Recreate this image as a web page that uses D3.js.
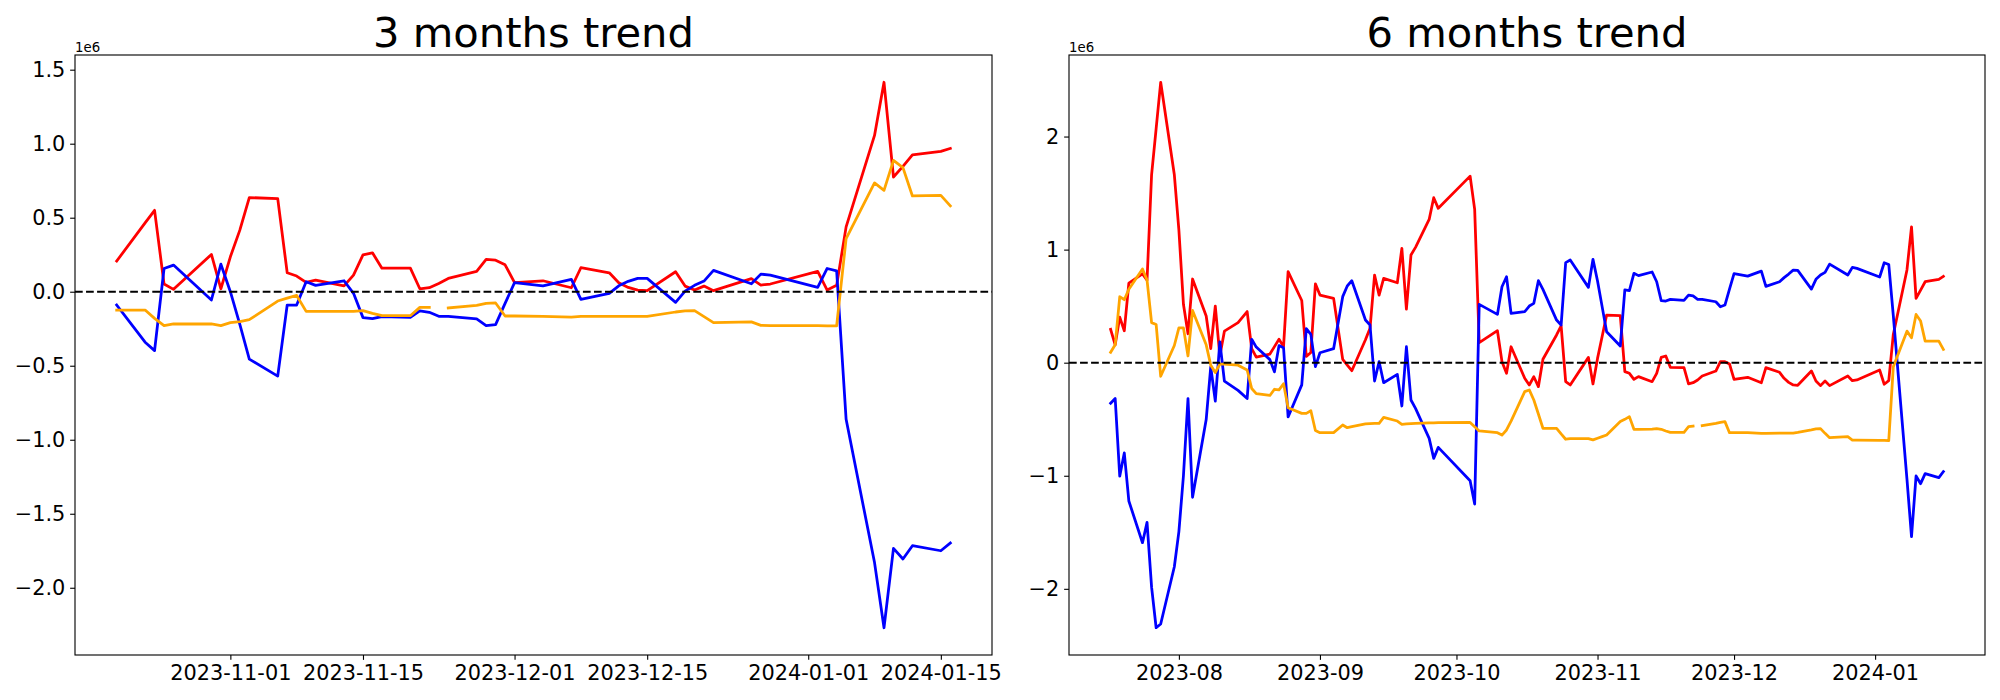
<!DOCTYPE html>
<html>
<head>
<meta charset="utf-8">
<script src="https://cdn.jsdelivr.net/npm/d3@7"></script>
<style>
  html, body { margin: 0; padding: 0; background: #fff; }
  svg { display: block; font-family: "DejaVu Sans", sans-serif; }
</style>
</head>
<body>
<svg id="chart" width="2000" height="700"></svg>
<script>
// ---------------- DATA (values in units of 1e6) ----------------
const titles = ["3 months trend", "6 months trend"];

const dates3m = ["2023-10-20","2023-10-23","2023-10-24","2023-10-25","2023-10-26","2023-10-30","2023-10-31",
  "2023-11-01","2023-11-02","2023-11-03","2023-11-06","2023-11-07","2023-11-08","2023-11-09","2023-11-10",
  "2023-11-13","2023-11-14","2023-11-15","2023-11-16","2023-11-17","2023-11-20","2023-11-21","2023-11-22",
  "2023-11-23","2023-11-24","2023-11-27","2023-11-28","2023-11-29","2023-11-30","2023-12-01","2023-12-04",
  "2023-12-07","2023-12-08","2023-12-11","2023-12-12","2023-12-13","2023-12-14","2023-12-15","2023-12-18",
  "2023-12-19","2023-12-20","2023-12-21","2023-12-22","2023-12-26","2023-12-27","2023-12-28","2024-01-02",
  "2024-01-03","2024-01-04","2024-01-05","2024-01-08","2024-01-09","2024-01-10","2024-01-11","2024-01-12",
  "2024-01-15","2024-01-16"];
const red3m = [0.207,0.465,0.550,0.052,0.016,0.252,0.020,
  0.236,0.416,0.636,0.629,0.128,0.106,0.063,0.079,
  0.040,0.112,0.249,0.263,0.159,0.159,0.020,0.027,
  0.056,0.090,0.137,0.218,0.213,0.182,0.061,0.074,
  0.027,0.162,0.128,0.061,0.029,0.011,0.007,0.135,
  0.038,0.011,0.038,0.007,0.088,0.045,0.052,0.137,
  0.011,0.043,0.438,1.056,1.415,0.775,0.847,0.925,
  0.948,0.968];
const blue3m = [-0.090,-0.341,-0.398,0.157,0.180,-0.056,0.186,
  0.000,-0.220,-0.455,-0.570,-0.090,-0.090,0.067,0.043,
  0.074,-0.011,-0.175,-0.182,-0.168,-0.173,-0.130,-0.139,
  -0.166,-0.166,-0.184,-0.229,-0.222,-0.079,0.061,0.040,
  0.083,-0.052,-0.011,0.040,0.070,0.090,0.090,-0.072,
  0.004,0.043,0.072,0.144,0.054,0.119,0.112,0.029,
  0.157,0.141,-0.862,-1.830,-2.270,-1.734,-1.806,-1.716,
  -1.750,-1.698];
const orange3m = [-0.124,-0.124,-0.180,-0.229,-0.218,-0.218,-0.229,
  -0.209,-0.202,-0.189,-0.063,-0.043,-0.025,-0.133,-0.133,
  -0.133,-0.133,-0.128,-0.146,-0.162,-0.162,-0.106,-0.106,
  null,-0.110,-0.092,-0.079,-0.076,-0.164,-0.164,-0.166,
  -0.171,-0.166,-0.166,-0.166,-0.166,-0.166,-0.166,-0.137,
  -0.130,-0.128,-0.168,-0.209,-0.204,-0.227,-0.229,-0.229,
  -0.231,-0.231,0.359,0.735,0.685,0.887,0.838,0.647,
  0.651,0.580];

const dates6m = ["2023-07-17","2023-07-18","2023-07-19","2023-07-20","2023-07-21","2023-07-24","2023-07-25",
  "2023-07-26","2023-07-27","2023-07-28","2023-07-31","2023-08-01","2023-08-02","2023-08-03","2023-08-04",
  "2023-08-07","2023-08-08","2023-08-09","2023-08-10","2023-08-11","2023-08-14","2023-08-16","2023-08-17",
  "2023-08-18","2023-08-21","2023-08-22","2023-08-23","2023-08-24","2023-08-25","2023-08-28","2023-08-29",
  "2023-08-30","2023-08-31","2023-09-01","2023-09-04","2023-09-06","2023-09-07","2023-09-08","2023-09-11",
  "2023-09-12","2023-09-13","2023-09-14","2023-09-15","2023-09-18","2023-09-19","2023-09-20","2023-09-21",
  "2023-09-22","2023-09-25","2023-09-26","2023-09-27","2023-10-04","2023-10-05","2023-10-06","2023-10-10",
  "2023-10-11","2023-10-12","2023-10-13","2023-10-16","2023-10-17","2023-10-18","2023-10-19","2023-10-20",
  "2023-10-23","2023-10-24","2023-10-25","2023-10-26","2023-10-30","2023-10-31","2023-11-01","2023-11-02",
  "2023-11-03","2023-11-06","2023-11-07","2023-11-08","2023-11-09","2023-11-10","2023-11-13","2023-11-14",
  "2023-11-15","2023-11-16","2023-11-17","2023-11-20","2023-11-21","2023-11-22","2023-11-23","2023-11-24",
  "2023-11-27","2023-11-28","2023-11-29","2023-11-30","2023-12-01","2023-12-04","2023-12-07","2023-12-08",
  "2023-12-11","2023-12-12","2023-12-13","2023-12-14","2023-12-15","2023-12-18","2023-12-19","2023-12-20",
  "2023-12-21","2023-12-22","2023-12-26","2023-12-27","2023-12-28","2024-01-02","2024-01-03","2024-01-04",
  "2024-01-05","2024-01-08","2024-01-09","2024-01-10","2024-01-11","2024-01-12","2024-01-15","2024-01-16"];
const red6m = [0.295,0.158,0.403,0.282,0.704,0.786,0.730,
  1.662,2.070,2.480,1.662,1.172,0.517,0.256,0.740,
  0.413,0.125,0.501,0.060,0.279,0.354,0.452,0.125,
  0.050,0.076,0.142,0.207,0.142,0.805,0.550,0.055,
  0.090,0.697,0.598,0.569,0.029,-0.021,-0.071,0.203,
  0.304,0.775,0.598,0.746,0.707,1.011,0.474,0.952,
  1.020,1.267,1.459,1.365,1.650,1.356,0.177,0.283,
  0.009,-0.094,0.141,-0.138,-0.197,-0.124,-0.212,0.030,
  0.245,0.325,-0.168,-0.197,0.047,-0.188,0.038,0.230,
  0.421,0.416,-0.079,-0.094,-0.147,-0.123,-0.168,-0.094,
  0.047,0.059,-0.041,-0.044,-0.188,-0.177,-0.153,-0.118,
  -0.074,0.009,0.009,-0.011,-0.147,-0.129,-0.177,-0.044,
  -0.085,-0.138,-0.174,-0.197,-0.200,-0.073,-0.162,-0.203,
  -0.162,-0.203,-0.118,-0.159,-0.153,-0.065,-0.191,-0.159,
  0.250,0.820,1.202,0.569,0.642,0.716,0.737,0.763];
const blue6m = [-0.359,-0.317,-1.004,-0.798,-1.223,-1.592,-1.412,
  -1.985,-2.344,-2.311,-1.805,-1.494,-1.000,-0.317,-1.190,
  -0.503,-0.038,-0.339,0.184,-0.163,-0.245,-0.317,0.207,
  0.138,0.027,-0.081,0.151,0.132,-0.480,-0.196,0.301,
  0.250,-0.035,0.088,0.124,0.584,0.678,0.725,0.377,
  0.333,-0.162,0.009,-0.177,-0.103,-0.383,0.141,-0.330,
  -0.404,-0.669,-0.846,-0.749,-1.044,-1.250,0.516,0.427,
  0.672,0.760,0.436,0.451,0.501,0.525,0.725,0.648,
  0.377,0.333,0.885,0.908,0.666,0.914,0.722,0.498,
  0.274,0.147,0.643,0.637,0.790,0.770,0.802,0.716,
  0.548,0.545,0.560,0.551,0.598,0.590,0.560,0.560,
  0.539,0.495,0.510,0.651,0.787,0.766,0.810,0.675,
  0.716,0.752,0.784,0.819,0.816,0.651,0.737,0.775,
  0.799,0.872,0.775,0.843,0.834,0.758,0.884,0.869,
  0.416,-1.030,-1.538,-1.002,-1.070,-0.981,-1.016,-0.963];
const orange6m = [0.092,0.158,0.583,0.557,0.650,0.829,0.731,
  0.354,0.338,-0.120,0.152,0.308,0.308,0.060,0.462,
  0.158,-0.022,-0.087,-0.012,-0.012,-0.022,-0.065,-0.228,
  -0.274,-0.290,-0.235,-0.241,-0.186,-0.399,-0.448,-0.448,
  -0.425,-0.600,-0.619,-0.619,-0.551,-0.575,-0.566,-0.542,
  -0.539,-0.536,-0.536,-0.483,-0.516,-0.545,-0.542,-0.539,
  -0.536,-0.533,-0.533,-0.530,-0.528,-0.566,-0.604,-0.619,
  -0.640,-0.595,-0.517,-0.256,-0.241,-0.330,-0.454,-0.580,
  -0.580,-0.630,-0.677,-0.671,-0.671,-0.683,-0.668,-0.654,
  -0.639,-0.521,-0.501,-0.477,-0.589,-0.589,-0.587,-0.584,
  -0.589,-0.604,-0.616,-0.616,-0.566,-0.560,null,-0.557,
  -0.536,-0.527,-0.521,-0.619,-0.619,-0.619,-0.625,-0.625,
  -0.622,-0.622,-0.622,-0.622,-0.616,-0.595,-0.586,-0.583,
  -0.625,-0.663,-0.654,-0.684,-0.684,-0.687,-0.687,-0.690,
  -0.035,0.279,0.220,0.427,0.368,0.191,0.191,0.118];

const xTicks3m = ["2023-11-01","2023-11-15","2023-12-01","2023-12-15","2024-01-01","2024-01-15"];
const xTicks6m = ["2023-08-01","2023-09-01","2023-10-01","2023-11-01","2023-12-01","2024-01-01"];
const yTicks3m = [-2.0,-1.5,-1.0,-0.5,0.0,0.5,1.0,1.5];
const yTicks6m = [-2,-1,0,1,2];
const seriesColors = ["red", "blue", "orange"];
const offsetLabel = "1e6";

// ---------------- DRAWING ----------------
const svg = d3.select("#chart");
const parse = d3.utcParse("%Y-%m-%d");
const PT = 100 / 72;               // px per point at dpi 100
const tickFont = 15 * PT;
const titleFont = 30 * PT;

const panels = [
  { title: titles[0], dates: dates3m, series: [red3m, blue3m, orange3m],
    xTicks: xTicks3m, xFmt: d3.utcFormat("%Y-%m-%d"), yTicks: yTicks3m, yFmt: d3.format(".1f"),
    left: 75, right: 992 },
  { title: titles[1], dates: dates6m, series: [red6m, blue6m, orange6m],
    xTicks: xTicks6m, xFmt: d3.utcFormat("%Y-%m"), yTicks: yTicks6m, yFmt: d3.format("d"),
    left: 1069, right: 1985 }
];
const axTop = 55, axBottom = 655;

panels.forEach((p, pi) => {
  const ds = p.dates.map(parse);
  const [d0, d1] = d3.extent(ds);
  const dPad = (d1 - d0) * 0.05;
  const x = d3.scaleUtc().domain([new Date(+d0 - dPad), new Date(+d1 + dPad)]).range([p.left, p.right]);
  const allV = p.series.flat().filter(v => v != null);
  const [v0, v1] = d3.extent(allV);
  const vPad = (v1 - v0) * 0.05;
  const y = d3.scaleLinear().domain([v0 - vPad, v1 + vPad]).range([axBottom, axTop]);

  const g = svg.append("g");
  const clipId = "clip" + pi;
  g.append("clipPath").attr("id", clipId).append("rect")
    .attr("x", p.left).attr("y", axTop).attr("width", p.right - p.left).attr("height", axBottom - axTop);

  const plot = g.append("g").attr("clip-path", `url(#${clipId})`);
  const line = d3.line().defined(d => d.v != null).x(d => x(d.t)).y(d => y(d.v));
  p.series.forEach((vals, si) => {
    const data = vals.map((v, i) => ({ t: ds[i], v }));
    plot.append("path").datum(data)
      .attr("d", line)
      .attr("fill", "none")
      .attr("stroke", seriesColors[si])
      .attr("stroke-width", 2 * PT)
      .attr("stroke-linejoin", "round")
      .attr("stroke-linecap", "square");
  });

  // zero reference line
  plot.append("line")
    .attr("x1", p.left).attr("x2", p.right)
    .attr("y1", y(0)).attr("y2", y(0))
    .attr("stroke", "black").attr("stroke-width", 1.5 * PT)
    .attr("stroke-dasharray", `${5.55 * PT},${2.4 * PT}`);

  // axes
  const xAxis = d3.axisBottom(x).tickValues(p.xTicks.map(parse)).tickFormat(p.xFmt)
    .tickSizeOuter(0).tickSize(3.5 * PT).tickPadding(3.5 * PT);
  const yAxis = d3.axisLeft(y).tickValues(p.yTicks).tickFormat(p.yFmt)
    .tickSizeOuter(0).tickSize(3.5 * PT).tickPadding(3.5 * PT);

  const gx = g.append("g").attr("transform", `translate(0,${axBottom})`).call(xAxis);
  const gy = g.append("g").attr("transform", `translate(${p.left},0)`).call(yAxis);
  [gx, gy].forEach(a => {
    a.select(".domain").remove();
    a.selectAll(".tick line").attr("stroke", "black").attr("stroke-width", 0.8 * PT);
    a.selectAll(".tick text").attr("fill", "black")
      .style("font-family", "'DejaVu Sans', sans-serif").style("font-size", tickFont + "px");
  });

  // frame
  g.append("rect").attr("x", p.left).attr("y", axTop)
    .attr("width", p.right - p.left).attr("height", axBottom - axTop)
    .attr("fill", "none").attr("stroke", "black").attr("stroke-width", 0.8 * PT);

  // offset label
  g.append("text").attr("x", p.left).attr("y", axTop - 3.5)
    .style("font-size", "13.3px").attr("fill", "black").text(offsetLabel);

  // title
  g.append("text").attr("x", (p.left + p.right) / 2).attr("y", axTop - 6 * PT)
    .attr("text-anchor", "middle").style("font-size", titleFont + "px").attr("fill", "black")
    .text(p.title);
});
</script>
</body>
</html>
